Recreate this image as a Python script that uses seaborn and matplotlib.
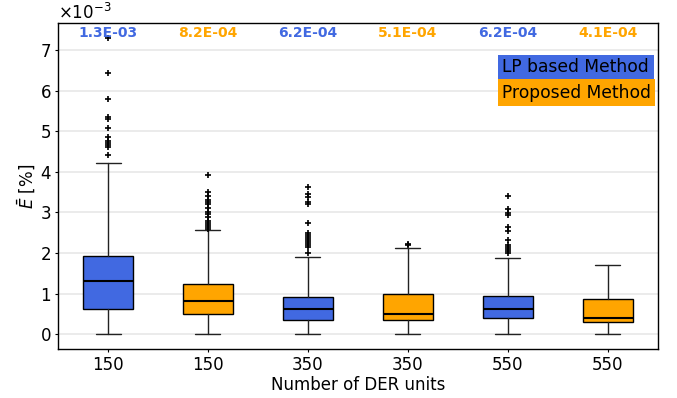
import numpy as np
import matplotlib
matplotlib.use("Agg")
import matplotlib.pyplot as plt
import matplotlib.patches as mpatches
import seaborn as sns

# values (in units of 1e-3)
tick_labels = ["150", "150", "350", "350", "550", "550"]
methods = ["LP based Method", "Proposed Method", "LP based Method",
           "Proposed Method", "LP based Method", "Proposed Method"]
q1 = [0.62, 0.49, 0.36, 0.345, 0.39, 0.30]
med = [1.32, 0.815, 0.61, 0.51, 0.62, 0.41]
q3 = [1.935, 1.235, 0.915, 0.99, 0.94, 0.875]
whislo = [0.0, 0.0, 0.0, 0.0, 0.0, 0.0]
whishi = [4.23, 2.58, 1.90, 2.13, 1.89, 1.70]
fliers = [
    [4.41, 4.6, 4.65, 4.7, 4.75, 4.85, 5.09, 5.3, 5.36, 5.79, 6.44, 7.29],
    [2.6, 2.65, 2.7, 2.75, 2.8, 2.9, 2.95, 3.0, 3.1, 3.2, 3.25, 3.3, 3.4, 3.51, 3.92],
    [1.99, 2.15, 2.2, 2.25, 2.3, 2.35, 2.4, 2.45, 2.5, 2.73, 3.2, 3.25, 3.38, 3.45, 3.63],
    [2.19, 2.22],
    [2.0, 2.05, 2.1, 2.15, 2.2, 2.33, 2.55, 2.64, 2.93, 2.99, 3.09, 3.41],
    [],
]
mean_err = [1.3e-3, 8.2e-4, 6.2e-4, 5.1e-4, 6.2e-4, 4.1e-4]

palette = {"LP based Method": "#4169E1", "Proposed Method": "#FFA500"}

sns.set_style("whitegrid", {
    "axes.edgecolor": "black",
    "grid.color": "#e8e8e8",
    "xtick.bottom": True,
    "ytick.left": True,
    "text.color": "black",
    "axes.labelcolor": "black",
    "xtick.color": "black",
    "ytick.color": "black",
})
plt.rcParams["font.family"] = ["DejaVu Sans"]

fig = plt.figure(figsize=(6.77, 3.98), dpi=100)
ax = fig.add_axes([0.0857, 0.123, 0.886, 0.818])

stats = []
for i in range(len(tick_labels)):
    stats.append({
        "q1": q1[i] * 1e-3, "med": med[i] * 1e-3, "q3": q3[i] * 1e-3,
        "whislo": whislo[i] * 1e-3, "whishi": whishi[i] * 1e-3,
        "fliers": np.array(fliers[i]) * 1e-3, "label": tick_labels[i],
    })

bp = ax.bxp(stats, widths=0.5, patch_artist=True, showfliers=True,
            boxprops=dict(edgecolor="black", linewidth=1),
            medianprops=dict(color="black", linewidth=1.5),
            whiskerprops=dict(color="#222222", linewidth=1),
            capprops=dict(color="#222222", linewidth=1),
            flierprops=dict(marker="+", markeredgecolor="black", markersize=5,
                            markeredgewidth=1.2))
for patch, m in zip(bp["boxes"], methods):
    patch.set_facecolor(palette[m])

ax.grid(axis="x", visible=False)
ax.grid(axis="y", visible=True, linewidth=1.2)
ax.set_axisbelow(True)
ax.ticklabel_format(axis="y", style="sci", scilimits=(0, 0), useMathText=True)
ax.yaxis.get_offset_text().set_fontsize(12)
ax.tick_params(labelsize=12, length=2.5, pad=2.5, width=0.8)
for sp in ax.spines.values():
    sp.set_linewidth(1)
    sp.set_color("black")

ax.set_xlabel("Number of DER units", fontsize=12, labelpad=1.5)
ax.set_ylabel(r"$\bar{E}$ [%]", fontsize=12, labelpad=2)

# mean error above each box
for i, (v, m) in enumerate(zip(mean_err, methods)):
    ax.text(i + 1, 0.958, f"{v:.1E}", transform=ax.get_xaxis_transform(),
            ha="center", va="baseline", fontsize=10, fontweight="bold",
            color=palette[m])

# legend drawn as coloured label boxes
legend_rows = [("LP based Method", 0.828, 0.0746, 0.2605, 0.866),
               ("Proposed Method", 0.747, 0.081, 0.263, 0.7875)]
for name, yb, h, w, yt in legend_rows:
    ax.add_patch(mpatches.Rectangle((0.733, yb), w, h, transform=ax.transAxes,
                                    facecolor=palette[name], edgecolor="none",
                                    zorder=5))
    ax.text(0.741, yt, name, transform=ax.transAxes, ha="left", va="center",
            fontsize=12.3, zorder=6)

fig.savefig("out.png", dpi=100)
